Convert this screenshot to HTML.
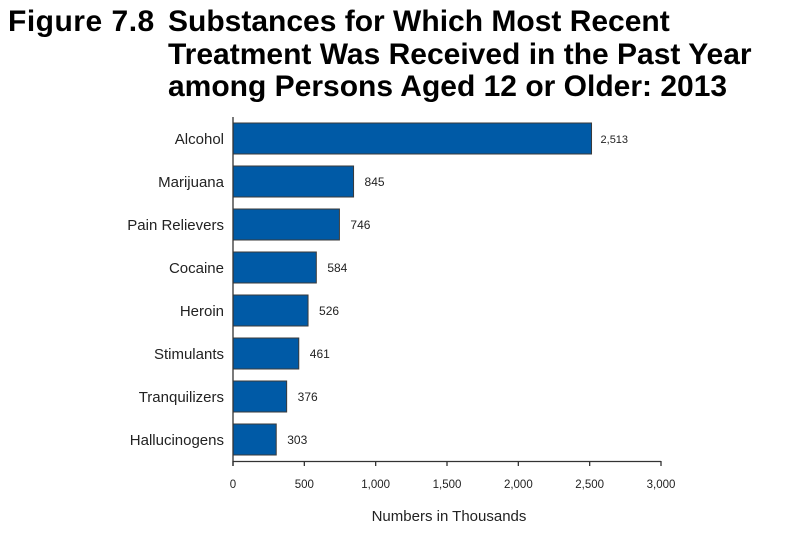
<!DOCTYPE html>
<html><head><meta charset="utf-8"><style>
body{margin:0;background:#fff;width:789px;height:540px;overflow:hidden;font-family:"Liberation Sans",Arial,sans-serif;}
.t{position:absolute;font-weight:bold;font-size:30px;line-height:32.5px;color:#000;white-space:nowrap;}
</style></head><body>
<div class="t" style="left:8px;top:6px;letter-spacing:0.5px;">Figure 7.8</div>
<div class="t" style="left:168px;top:6px;">Substances for Which Most Recent<br>Treatment Was Received in the Past Year<br>among Persons Aged 12 or Older: 2013</div>
<svg id="c" width="789" height="540" style="position:absolute;left:0;top:0" xmlns="http://www.w3.org/2000/svg"></svg>
<script>
const categories=["Alcohol","Marijuana","Pain Relievers","Cocaine","Heroin","Stimulants","Tranquilizers","Hallucinogens"];
const values=[2513,845,746,584,526,461,376,303];
const valueLabels=["2,513","845","746","584","526","461","376","303"];
const ticks=[0,500,1000,1500,2000,2500,3000];
const tickLabels=["0","500","1,000","1,500","2,000","2,500","3,000"];
const svg=document.getElementById('c');const NS="http://www.w3.org/2000/svg";
function x(v){return 233+v*(428/3000);}
function y(i){return 123+i*43;}
function mk(t,a,txt){const e=document.createElementNS(NS,t);for(const k in a)e.setAttribute(k,a[k]);if(txt!==undefined)e.textContent=txt;svg.appendChild(e);return e;}
categories.forEach((c,i)=>{
 const r=mk('rect',{x:x(0),y:y(i),width:x(values[i])-x(0),height:31,fill:'#005aa6',stroke:'#3a3a3a','stroke-width':1});
 
 
 const l=mk('text',{x:224,y:y(i)+21,'text-anchor':'end','font-size':15,fill:'#222'},c);
 
 
 const v=mk('text',{x:x(values[i])+ (i==0?9:11),y:y(i)+20,'font-size':(i==0?11:12),fill:'#222'},valueLabels[i]);
 
 
});
const ya=mk('line',{x1:233,y1:117,x2:233,y2:466,stroke:'#333','stroke-width':1.3});


const xa=mk('line',{x1:233,y1:461.5,x2:661,y2:461.5,stroke:'#333','stroke-width':1.3});


ticks.forEach((t,i)=>{
 const tk=mk('line',{x1:x(t),y1:461,x2:x(t),y2:466,stroke:'#333','stroke-width':1.3});
 
 
 const tl=mk('text',{x:x(t),y:488,'text-anchor':'middle','font-size':11.5,fill:'#222'},tickLabels[i]);
 
 
});
const at=mk('text',{x:449,y:521,'text-anchor':'middle','font-size':15,fill:'#222'},'Numbers in Thousands');


</script>
</body></html>
